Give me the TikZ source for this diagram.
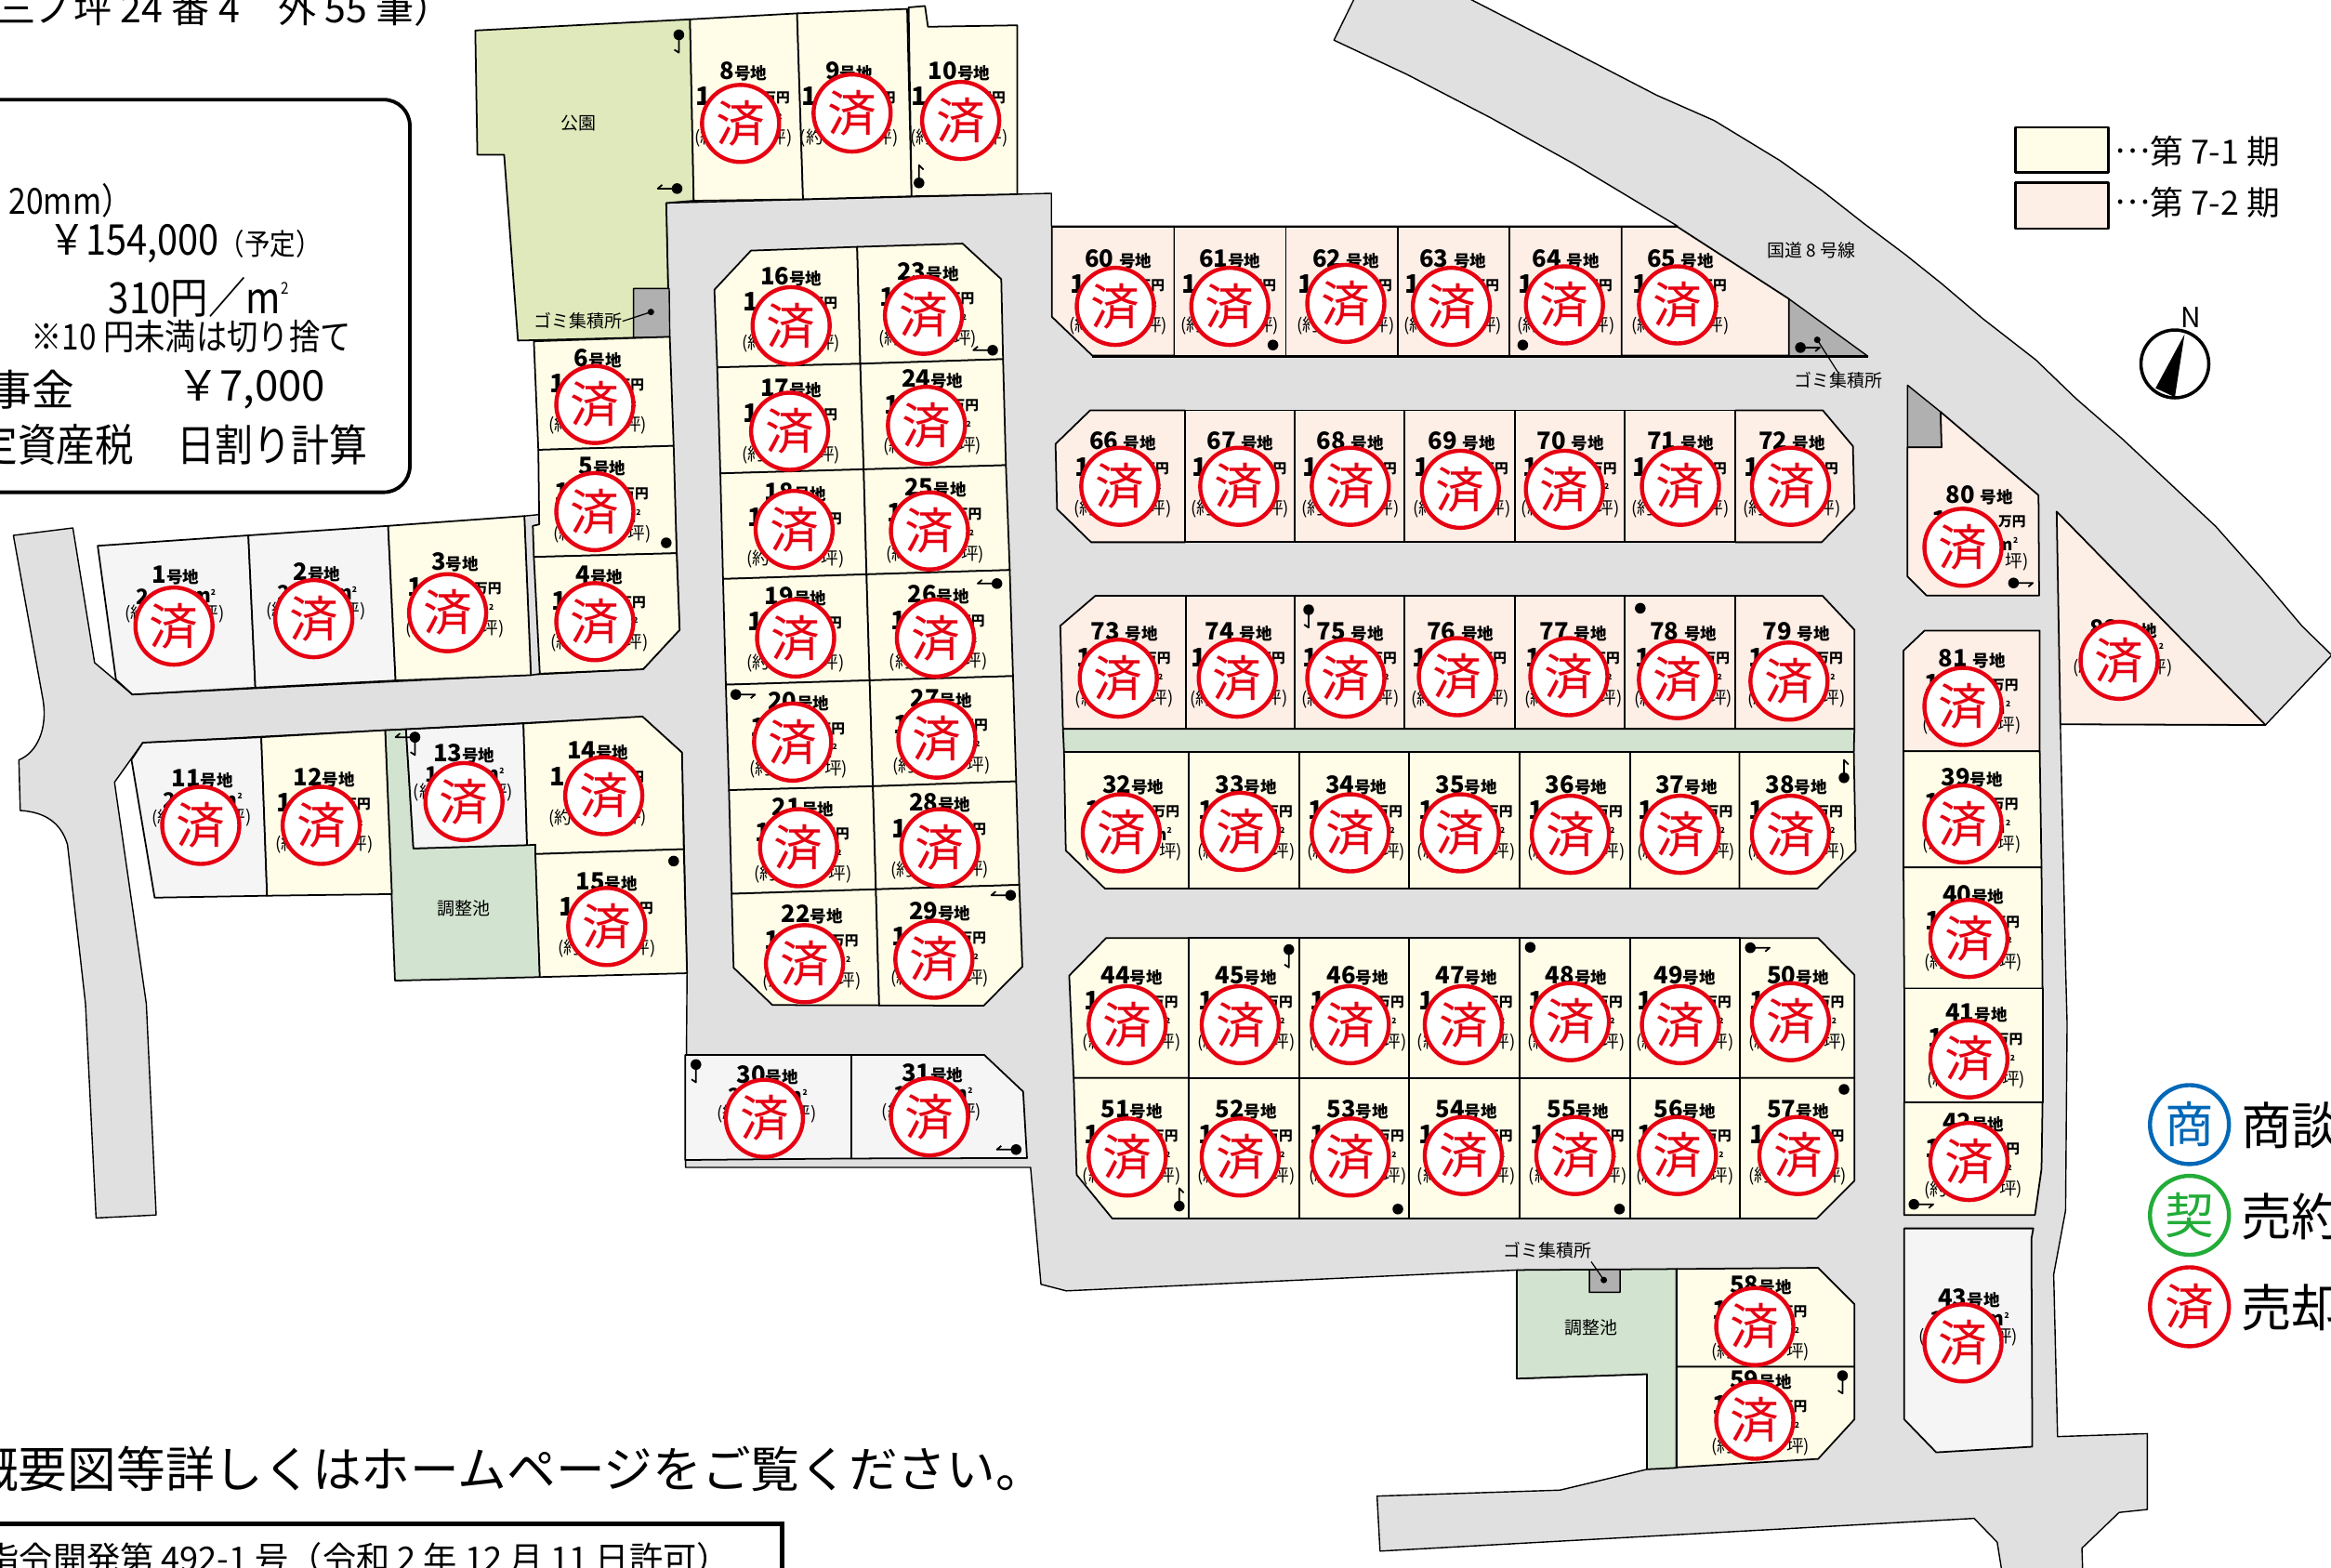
\documentclass[tikz,border=0pt]{standalone}
\usepackage{fontspec}
\setmainfont{Noto Sans CJK JP}
\newfontfamily\cond[FakeStretch=0.87]{Noto Sans CJK JP}
\definecolor{roadc}{HTML}{E0E0E0}
\definecolor{lotyel}{HTML}{FFFDE8}
\definecolor{lotpink}{HTML}{FDEEE6}
\definecolor{lotgrey}{HTML}{F5F5F5}
\definecolor{parkc}{HTML}{DFE9BC}
\definecolor{pondc}{HTML}{D2E4D0}
\definecolor{gomic}{HTML}{B0B0B0}
\definecolor{sred}{HTML}{E60012}
\definecolor{sblue}{HTML}{0068B7}
\definecolor{sgreen}{HTML}{22AC38}
\newcommand{\fs}[1]{\fontsize{#1}{#1}\selectfont}
\newcommand{\sqmt}{m\raisebox{2.4pt}{\fs{2.4}2}}
\tikzset{
  edge/.style={draw=black,line width=0.5pt,line join=round},
  road/.style={edge,fill=roadc,line width=0.4pt},
  yel/.style={edge,fill=lotyel},
  pink/.style={edge,fill=lotpink},
  gry/.style={edge,fill=lotgrey},
  park/.style={edge,fill=parkc},
  pond/.style={edge,fill=pondc},
  gomi/.style={edge,fill=gomic,line width=0.4pt},
  txt/.style={inner sep=0pt,outer sep=0pt,text=black},
  stamp/.style={circle,draw=#1,fill=white,text=#1,line width=1.25pt,minimum size=0.83cm,inner sep=0pt,font=\fs{15}},
  stamp/.default=sred,
  site/.style={txt,font=\fs{5.4}\color{black!80}},
  pin/.style={line width=0.5pt,line join=round},
}
\newcommand{\lab}[3]{\node[txt] (lab#1) at (#2,#3) {\textbf{\fs{7.3}#1}\ifnum#1>59 \ifnum#1=61 \else\hspace{1.6pt}\fi\fi\textbf{\fs{5}号地}};}
\newcommand{\lotA}[3]{%
  \lab{#1}{#2}{#3}
  \node[txt,font=\fs{7.8}\bfseries] (one#1) at (#2-27,#3+17) {1};
  \node[txt,font=\fs{4.2}\bfseries] (yen#1) at (#2+22,#3+18) {万円};
  \node[txt,anchor=east,font=\fs{5}\bfseries] (sqm#1) at (#2+26,#3+33) {\sqmt};
  \node[txt,anchor=west,font=\fs{5.3}] (ya#1) at (#2-33,#3+45) {(約};
  \node[txt,anchor=east,font=\fs{5.3}] (yb#1) at (#2+33,#3+45) {坪)};
}
\newcommand{\lotB}[4]{%
  \lab{#1}{#2}{#3}
  \node[txt,font=\fs{6.5}\bfseries] (num#1) at (#2-22,#3+14) {#4};
  \node[txt,anchor=east,font=\fs{6}\bfseries] (sqm#1) at (#2+27,#3+14) {\sqmt};
  \node[txt,anchor=west,font=\fs{5.3}] (ya#1) at (#2-34,#3+26) {(約};
  \node[txt,anchor=east,font=\fs{5.3}] (yb#1) at (#2+33,#3+26) {坪)};
}
\newcommand{\pinD}[2]{\fill (#1,#2) circle (3.6);}
\begin{document}
\begin{tikzpicture}[x=0.016cm,y=-0.016cm]
\useasboundingbox (0,0) rectangle (1567.5,1053.75);
\fill[white] (0,0) rectangle (1567.5,1053.75);
% roads
\draw[road] (9,360)--(49,355)--(63.6,445.6)--(89,467)--(432.5,450)--(457,423.6)--(450,225)--(448,136.5)--(707,130)--(707,152)--(1128,152)--(1058,110)--(1002,79)--(946,50)--(897,27)--(912.7,-5)--(980,-5)--(1058,35)--(1114,64)--(1152.6,81)--(1197,108)--(1225,128)--(1253,150)--(1281,171)--(1306,191)--(1333,214)--(1369,242)--(1396,268)--(1427,295)--(1458,324)--(1490,354)--(1521,389)--(1548,421)--(1568,440.5)--(1523.4,487.5)--(1385.5,487)--(1389,650)--(1390,688)--(1389,814)--(1381,857)--(1383.6,966)--(1444,964)--(1444,1015)--(1425,1017)--(1400,1041)--(1400.6,1060)--(1346.7,1060)--(1343,1037)--(1327.5,1021)--(1000,1039)--(928,1043)--(926,1006)--(1049,1002)--(1107.5,988)--(1107.5,924)--(1020,927)--(1020,854)--(717,868)--(700,863.6)--(693,785)--(461,785)--(462,655)--(458.6,506)--(432,482)--(96,499.4)--(77,526)--(98.4,675)--(105,817)--(64.6,819)--(57.5,675)--(45.4,568) .. controls (41,553) and (30,546) .. (13.6,545)--(12.7,511) .. controls (25,506) and (32,490) .. (29,471)--cycle;
\draw[road] (352.6,347)--(362.6,346)--(363,453)--(357,454)--cycle;
% park and ponds
\draw[park] (319.6,20.5)--(464,13)--(466.5,135)--(448,136.5)--(450,226.5)--(348.3,229)--(339,104)--(321,104)--cycle;
\draw[gomi] (426,194)--(450,194)--(450.4,226.5)--(426,227)--cycle;
\draw[pond] (259,491)--(273,490.4)--(278,570.5)--(360,568)--(363,657)--(265.6,659.4)--cycle;
\draw[pond] (1020,854)--(1127.4,853.3)--(1127.4,987)--(1107.5,988)--(1107.5,924)--(1020,927)--cycle;
\draw[gomi] (1068.8,853.8)--(1089.4,853.6)--(1089.4,869)--(1068.8,869)--cycle;
% lots north-west
\draw[yel] (464,13)--(536,9)--(540,134)--(466.5,135)--cycle;
\draw[yel] (536,9)--(610,6)--(613,132)--(540,134)--cycle;
\draw[yel] (611,5)--(622,4)--(624,18)--(684,17)--(684,130.6)--(613,132)--cycle;
\draw[yel] (359,229.5)--(450.4,226.5)--(453,299.8)--(362,302.5)--cycle;
\draw[yel] (362,302.5)--(453,299.8)--(455,372)--(359,374.5)--(358.3,353.6)--(362.6,352.6)--cycle;
\draw[yel] (359,374.5)--(455,372)--(457,423.6)--(432.5,450)--(363,453)--cycle;
\draw[gry] (65.7,367)--(167,360)--(171.7,462.4)--(89,467)--(78,457)--cycle;
\draw[gry] (167,360)--(261,353.6)--(266,457.6)--(171.7,462.4)--cycle;
\draw[yel] (261,353.6)--(352.6,347)--(357,454)--(266,457.6)--cycle;
\draw[gry] (96,499.4)--(175.7,495.7)--(179.6,602.3)--(104,603.6)--(88.4,510.8)--cycle;
\draw[yel] (175.7,495.7)--(259,491)--(263.5,601.2)--(179.6,602.3)--cycle;
\draw[gry] (273,490.4)--(352,486.5)--(354.4,568.3)--(278,570.5)--cycle;
\draw[yel] (352,486.5)--(432,481.8)--(458.6,506)--(459.8,571)--(360,574.3)--(360,568)--(354.4,568.3)--cycle;
\draw[yel] (360,574.3)--(459.8,571)--(462,654.4)--(363,657)--cycle;
% central-west block
\draw[yel] (505,168.5)--(576.4,166)--(578.5,244.6)--(482.3,247)--(480.4,194.8)--cycle;
\draw[yel] (576.4,166)--(647.3,163.8)--(673.3,187.7)--(674.5,241.5)--(578.5,244.6)--cycle;
\draw[yel] (482.3,247)--(578.5,244.6)--(580.8,315.6)--(484.4,318.3)--cycle;
\draw[yel] (578.5,244.6)--(674.5,241.5)--(676.4,312.8)--(580.8,315.6)--cycle;
\draw[yel] (484.4,318.3)--(580.8,315.6)--(582.7,386.2)--(486.2,389.3)--cycle;
\draw[yel] (580.8,315.6)--(676.4,312.8)--(679,383.3)--(582.7,386.2)--cycle;
\draw[yel] (486.2,389.3)--(582.7,386.2)--(584.8,457.5)--(488.1,460.4)--cycle;
\draw[yel] (582.7,386.2)--(679,383.3)--(681.2,454.6)--(584.8,457.5)--cycle;
\draw[yel] (488.1,460.4)--(584.8,457.5)--(587,528.7)--(490.2,531.3)--cycle;
\draw[yel] (584.8,457.5)--(681.2,454.6)--(683.3,525.4)--(587,528.7)--cycle;
\draw[yel] (490.2,531.3)--(587,528.7)--(589,598)--(492,601)--cycle;
\draw[yel] (587,528.7)--(683.3,525.4)--(685.4,595)--(589,598)--cycle;
\draw[yel] (492,601)--(589,598)--(591.2,676)--(519.4,675.8)--(493.3,650.7)--cycle;
\draw[yel] (589,598)--(685.4,595)--(687.5,650)--(661.4,676.3)--(591.2,676)--cycle;
\draw[gry] (460.8,709.3)--(572.5,709.3)--(572.5,779)--(460.8,780)--cycle;
\draw[gry] (572.5,709.3)--(661.8,709.3)--(688,734)--(690.6,778.7)--(572.5,779)--cycle;
% row 60-65
\draw[pink] (707.3,152.5)--(789.6,152.5)--(789.6,239)--(734.4,239)--(707.3,213)--cycle;
\foreach \a/\b in {789.6/864.6,864.6/939.8,939.8/1015,1015/1090.5}{\draw[pink] (\a,152.5) rectangle (\b,239);}
\draw[pink] (1090.5,152.5)--(1128,152.5)--(1169,179)--(1203,201)--(1203,239)--(1090.5,239)--cycle;
\draw[gomi] (1203,201)--(1256,239.5)--(1203,239.5)--cycle;
\draw[edge,line width=0.9pt] (734.4,239.5)--(1256,239.5);
% row 66-72
\draw[pink] (733,276)--(797,276)--(797,364.6)--(733.7,364.6)--(710.8,342.3)--(709.8,298.5)--cycle;
\foreach \a/\b in {797/870.8,870.8/944.5,944.5/1018.7,1018.7/1092.7,1092.7/1166.9}{\draw[pink] (\a,276) rectangle (\b,364.6);}
\draw[pink] (1166.9,276)--(1225.8,276)--(1246,300)--(1247,342)--(1225,364.6)--(1166.9,364.6)--cycle;
% row 73-79
\draw[pink] (736.6,400.6)--(797.6,400.6)--(797.6,490.2)--(714.8,490.2)--(713,420.8)--cycle;
\foreach \a/\b in {797.6/870.8,870.8/944.5,944.5/1018.6,1018.6/1092.7,1092.7/1166.9}{\draw[pink] (\a,400.6) rectangle (\b,490.2);}
\draw[pink] (1166.9,400.6)--(1225.5,400.6)--(1247,423.5)--(1247,490.2)--(1166.9,490.2)--cycle;
\draw[pond] (714.8,490.2)--(1247,490.2)--(1246.6,505.6)--(715.5,505.6)--cycle;
% row 32-38
\draw[yel] (715.5,505.6)--(799.3,505.6)--(799.3,597.5)--(743,597.5)--(716.7,571.9)--cycle;
\foreach \a/\b in {799.3/873.7,873.7/947.6,947.6/1022,1022/1096,1096/1169.7}{\draw[yel] (\a,505.6) rectangle (\b,597.5);}
\draw[yel] (1169.7,505.6)--(1246.6,505.6)--(1247.8,571.9)--(1222,597.5)--(1169.7,597.5)--cycle;
% rows 44-57
\draw[yel] (743.8,630.8)--(799.3,630.8)--(799.3,724.8)--(722,724.8)--(719,656)--cycle;
\foreach \a/\b in {799.3/873.7,873.7/947.6,947.6/1021.7,1021.7/1096,1096/1170}{\draw[yel] (\a,630.8) rectangle (\b,724.8);}
\draw[yel] (1170,630.8)--(1222.6,630.8)--(1247,655.6)--(1247,724.8)--(1170,724.8)--cycle;
\draw[yel] (722,724.8)--(799.3,724.8)--(799.3,819.4)--(748,819.4)--(724,790)--cycle;
\foreach \a/\b in {799.3/873.7,873.7/947.6,947.6/1021.7,1021.7/1096,1096/1170}{\draw[yel] (\a,724.8) rectangle (\b,819.4);}
\draw[yel] (1170,724.8)--(1247,724.8)--(1247,794)--(1221.5,819.4)--(1170,819.4)--cycle;
% lots 58, 59, 43
\draw[yel] (1127.4,853.3)--(1222.6,852.5)--(1247,877)--(1247,919)--(1127.4,919)--cycle;
\draw[yel] (1127.4,919)--(1247,919)--(1247,954.4)--(1222.6,981)--(1127.4,986.7)--cycle;
\draw[gry] (1280.5,826)--(1367.3,826)--(1366,833)--(1366.6,972.8)--(1302,976.6)--(1280.5,954.4)--cycle;
% east column
\draw[gomi] (1282.7,259)--(1305,277)--(1305.6,300.8)--(1282.7,300.8)--cycle;
\draw[pink] (1305,277)--(1370.8,333)--(1371.2,400.4)--(1295.4,400.4)--(1282.7,387.7)--(1282.7,300.8)--(1305.6,300.8)--cycle;
\draw[pink] (1383,344)--(1523.4,487.5)--(1385.5,487)--cycle;
\draw[pink] (1294.2,424)--(1371.6,424)--(1371.6,505.2)--(1280,505.2)--(1280,437.5)--cycle;
\draw[yel] (1280,505.2)--(1371.6,505.2)--(1372.8,583.3)--(1280,583.3)--cycle;
\draw[yel] (1280,583.3)--(1372.8,583.3)--(1373.5,664.6)--(1280.5,664.6)--cycle;
\draw[yel] (1280.5,664.6)--(1373.5,664.6)--(1373.5,741.2)--(1280.5,741.2)--cycle;
\draw[yel] (1280.5,741.2)--(1373.5,741.2)--(1372.8,786)--(1368.4,817)--(1280.5,817)--cycle;
% lot texts
\foreach \n/\x/\y in {8/500/48,9/571/48,10/645/48,60/752/174,61/827/174,62/905/174,63/977/174,64/1053/174,65/1130/174,16/532/186,23/624/183,17/532/261,24/627/255,18/535/331,25/629/328,19/535/401,26/631/400,20/537/472,27/633/470,21/540/543,28/632/540,22/546/615,29/632/613,66/755/297,67/834/297,68/908/297,69/983/297,70/1056/297,71/1130/297,72/1205/297,73/756/425,74/833/425,75/908/425,76/982/425,77/1058/425,78/1132/425,79/1208/425,32/762/528,33/838/528,34/912/528,35/986/528,36/1060/528,37/1134/528,38/1208/528,44/761/656,45/838/656,46/913/656,47/986/656,48/1060/656,49/1133/656,50/1209/656,51/761/746,52/838/746,53/913/746,54/986/746,55/1061/746,56/1133/746,57/1209/746,58/1184/864,59/1184/928,80/1331/333,81/1326/443,39/1326/523,40/1327/602,41/1329/681,42/1327/755,3/306/378,4/403/387,5/405/314,6/402/241,12/218/523,14/402/505,15/408/593}{\lotA{\n}{\x}{\y}}
\foreach \n/\x/\y/\d in {1/118/387/2,2/213/385/2,11/136/524/2,13/312/507/1,30/516/723/2,31/627/722/1,43/1324/873/1,82/1428/423/{}}{\lotB{\n}{\x}{\y}{\d}}
% pins
\foreach \x/\y in {856/232,1024/232,1103/409,1029/637,1089/813,1240/732.5,453/579,448/365,940/813}{\pinD{\x}{\y}}
\foreach \x/\y in {456.5/23.4,468/715.8,880/410,866.7/638.5,1239/925,279/495.7}{\pinD{\x}{\y}\draw[pin] (\x,\y)--++(0,12)--++(-3,-2);}
\foreach \x/\y in {455.3/126.8,667.5/235.5,670.4/392.4,679.6/602,683.3/773,279/495.7}{\pinD{\x}{\y}\draw[pin] (\x,\y)--++(-13,0)--++(3,-2.5);}
\foreach \x/\y in {494.8/467,1177/637.3,1287/809.8,1354/392,1210.7/233.7}{\pinD{\x}{\y}\draw[pin] (\x,\y)--++(13,0)--++(-3,2.5);}
\foreach \x/\y in {618/123,1240/523,793/811}{\pinD{\x}{\y}\draw[pin] (\x,\y)--++(0,-12)--++(3,3);}
% site labels
\node[site] (park) at (389,83) {公園};
\node[site] (pond1) at (312,611) {調整池};
\node[site] (pond2) at (1070,893) {調整池};
\node[site] (road8) at (1218,168) {国道 8 号線};
\node[site] (g1) at (389,216) {ゴミ集積所};
\node[site] (g2) at (1236,256) {ゴミ集積所};
\node[site] (g3) at (1040.5,840.5) {ゴミ集積所};
\coordinate (d1) at (437.7,209.8);
\coordinate (d2) at (1222,228.5);
\coordinate (d3) at (1078.5,860.7);
\fill (d1) circle (2.2);\fill (d2) circle (2.2);\fill (d3) circle (2.2);
\draw[line width=0.35pt] (d1)--(g1.east);
\draw[line width=0.35pt] (d2)--(g2.north);
\draw[line width=0.35pt] (d3)--(1070,848.4);
% stamps
\foreach \n/\x/\y in {8/498/83,9/573/76,10/646/81,60/750/206,61/827/206,62/905/204,63/976/206,64/1052/205,65/1128/205,16/532/219,23/621/212,17/531/290,24/623/286,18/534/356,25/625/357,19/535/429,26/629/429,20/533/499,27/630/497,21/537/570,28/632/570,22/541/648,29/628/645,30/514/752,31/625/751,66/753/327,67/833/327,68/908/327,69/982/329,70/1052/329,71/1130/327,72/1204/327,73/752/456,74/832/456,75/905/456,76/980/455,77/1055/455,78/1128/457,79/1203/458,32/754/560,33/834/559,34/908/560,35/982/560,36/1056/561,37/1130/561,38/1204/561,44/758/689,45/834/689,46/908/689,47/984/689,48/1056/687,49/1130/689,50/1204/687,51/758/778,52/834/778,53/908/778,54/984/777,55/1059/777,56/1128/777,57/1209/777,58/1180/892,59/1180/955,43/1320/903,80/1320/368,81/1320/475,39/1320/554,40/1324/631,41/1324/712,42/1324/781,82/1425/444,1/117/421,2/211/416,3/301/412,4/400/418,5/400/344,6/400/272,11/135/555,12/216/555,13/312/539,14/406/535,15/408/623}{\node[stamp] (st\n) at (\x,\y) {済};}
% legend
\draw[edge,fill=lotyel,line width=0.7pt] (1355.2,85.7) rectangle (1417.7,116);
\draw[edge,fill=lotpink,line width=0.7pt] (1355.2,122.7) rectangle (1417.7,153.6);
\node[txt,anchor=west,font=\fs{10.2}] (leg1) at (1422,101.5) {\raisebox{3.2pt}{…}第 7-1 期};
\node[txt,anchor=west,font=\fs{10.2}] (leg2) at (1422,136) {\raisebox{3.2pt}{…}第 7-2 期};
% compass
\draw[line width=1pt,fill=white] (1462.5,244.7) circle (22.8);
\fill (1469,224.8)--(1449.5,261)--(1462.5,267)--cycle;
\node[txt,font=\fs{8.5}] (north) at (1473,213.5) {N};
% status key
\node[stamp=sblue,minimum size=0.85cm] (kb) at (1472.3,756.2) {商};
\node[stamp=sgreen,minimum size=0.85cm] (kg) at (1472.3,817.2) {契};
\node[stamp=sred,minimum size=0.85cm] (kr) at (1472.3,878.7) {済};
\node[txt,anchor=west,font=\fs{15.5}] (kb1) at (1507,757) {商談};
\node[txt,anchor=west,font=\fs{15.5}] (kg1) at (1507,818) {売約};
\node[txt,anchor=west,font=\fs{15.5}] (kr1) at (1507,879) {売却};
% info box
\draw[line width=1.1pt,rounded corners=8] (-20,67)--(275.6,67)--(275.6,331)--(-20,331);
\node[txt,anchor=east,font=\fs{11.7}] (t0) at (304,5.5) {字三ノ坪 24 番 4　外 55 筆）};
\node[txt,anchor=west,font=\cond\fs{11}] (t1) at (6,135) {20mm）};
\node[txt,anchor=west,font=\cond\fs{13}] (t2) at (33,164) {￥154,000\fs{9}（予定）};
\node[txt,anchor=west,font=\cond\fs{13.2}] (t3) at (73,200) {310円／m\raisebox{6pt}{\fs{5}2}};
\node[txt,anchor=west,font=\cond\fs{10.9}] (t4) at (21,226.5) {※10 円未満は切り捨て};
\node[txt,anchor=east,font=\fs{13}] (t5) at (50,262) {事金};
\node[txt,anchor=west,font=\fs{13}] (t6) at (119,262) {￥7,000};
\node[txt,anchor=east,font=\cond\fs{13.6}] (t7) at (90,299) {定資産税};
\node[txt,anchor=west,font=\cond\fs{13.4}] (t8) at (119,299) {日割り計算};
% bottom texts
\node[txt,anchor=east,font=\fs{15}] (t9) at (702.5,987.5) {概要図等詳しくはホームページをご覧ください。};
\draw[line width=1.3pt] (-20,1024.5)--(526,1024.5)--(526,1070);
\node[txt,anchor=east,font=\fs{10.3}] (t10) at (491,1048) {指令開発第 492-1 号（令和 2 年 12 月 11 日許可）};
\end{tikzpicture}
\end{document}
